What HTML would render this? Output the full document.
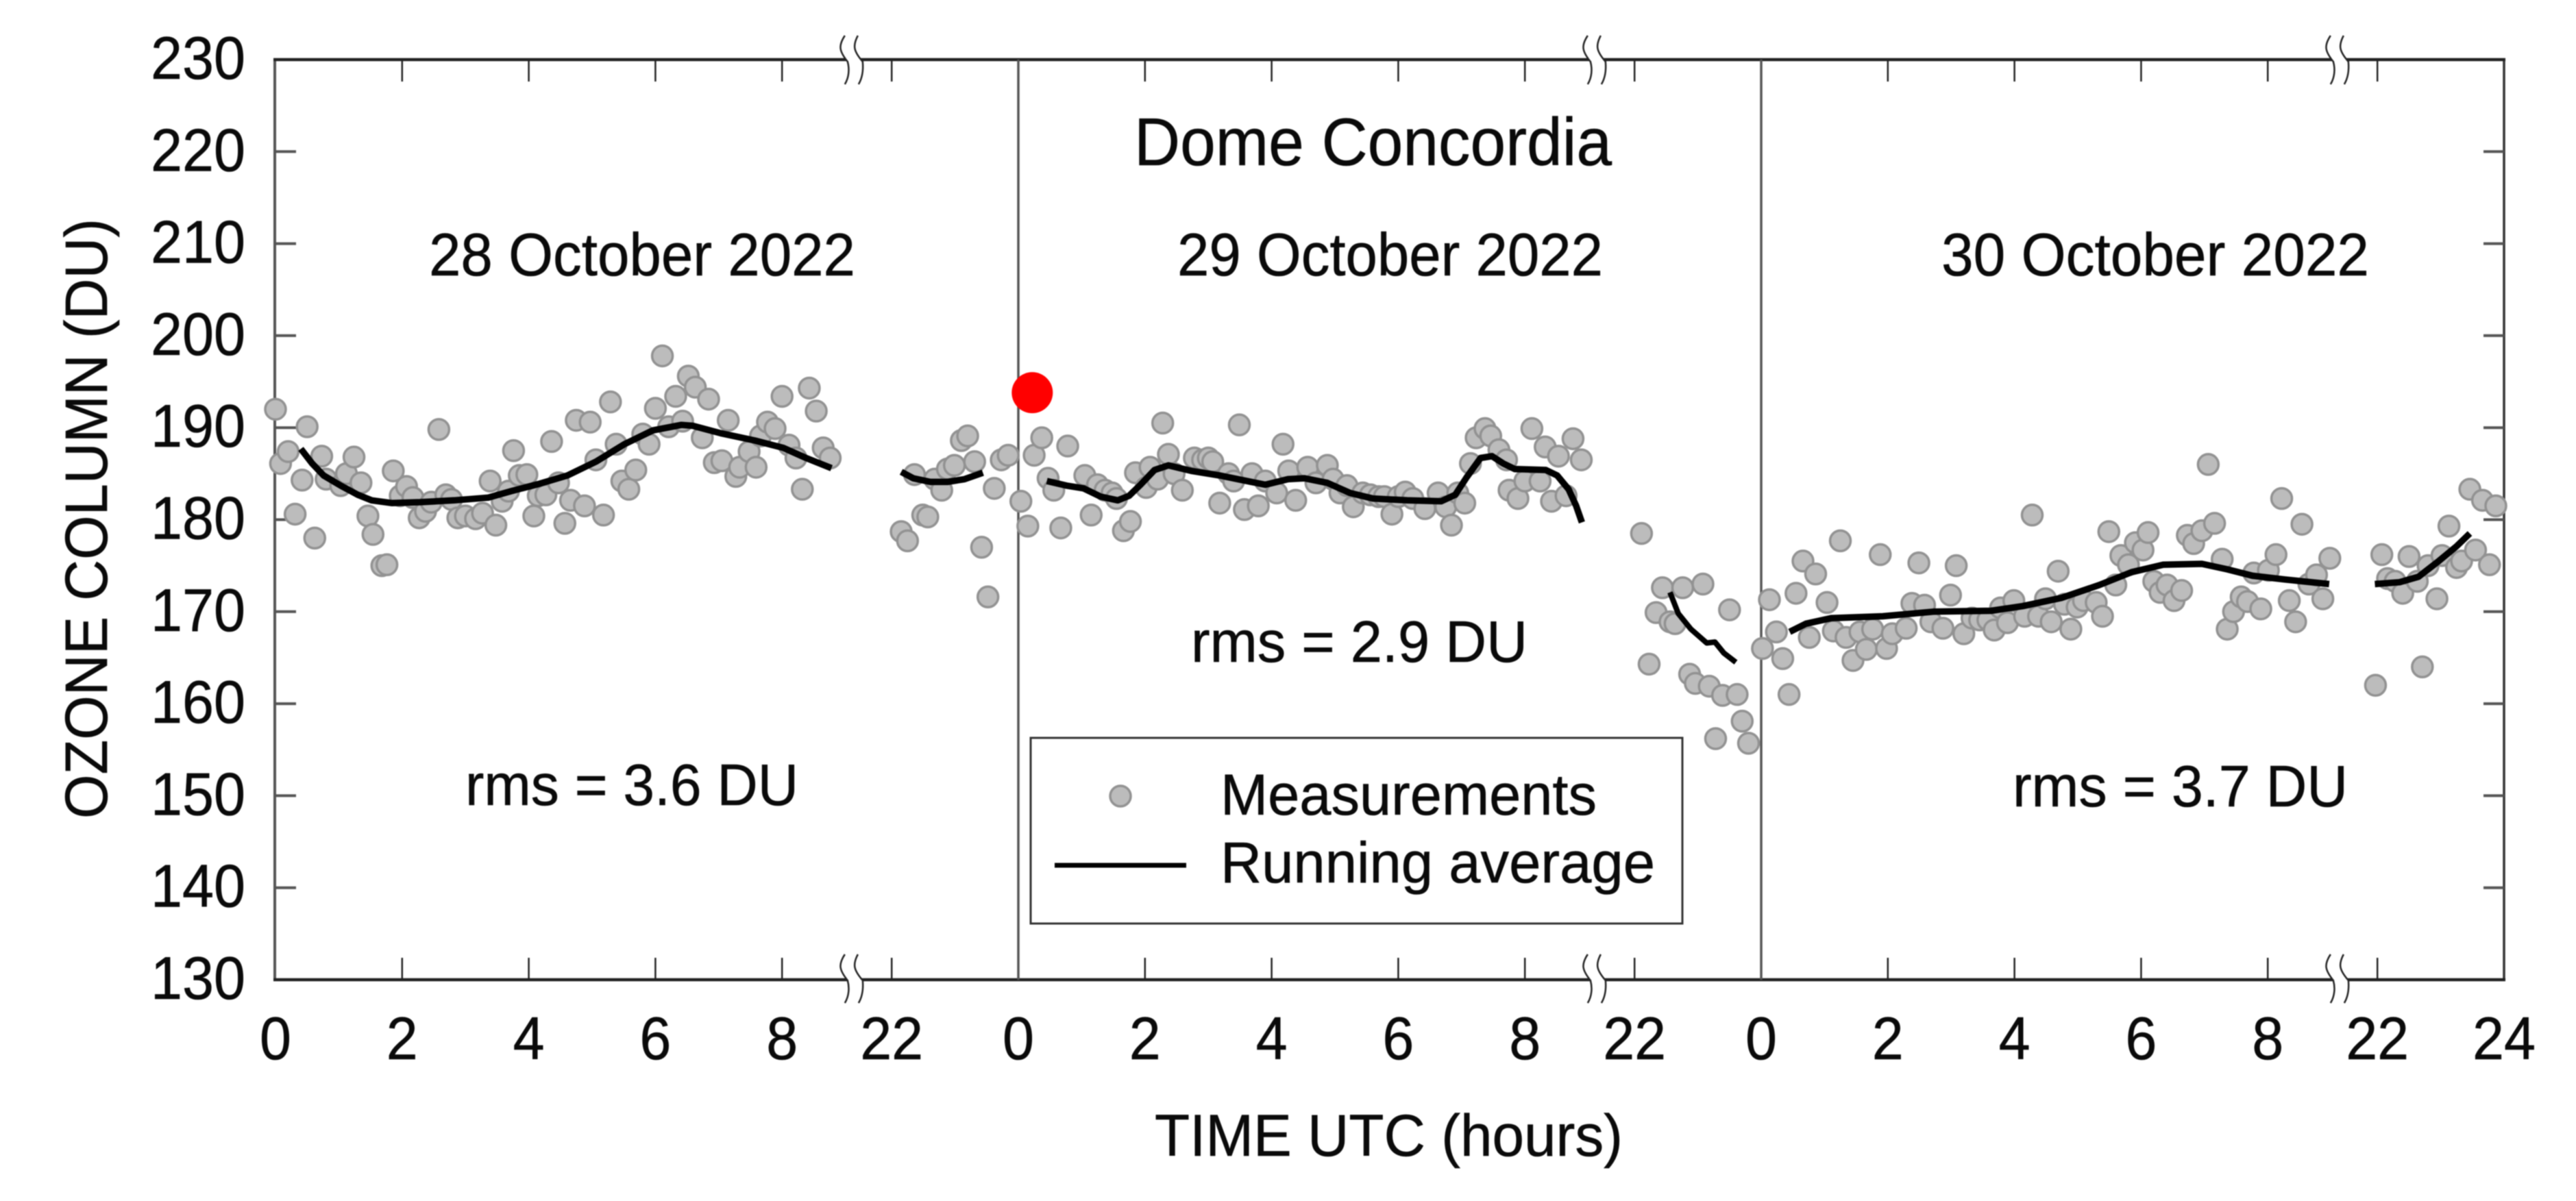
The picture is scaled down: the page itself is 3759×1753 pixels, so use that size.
<!DOCTYPE html>
<html lang="en">
<head>
<meta charset="utf-8">
<title>Dome Concordia ozone column</title>
<style>
html,body{margin:0;padding:0;background:#fff;width:3759px;height:1753px;overflow:hidden}
svg{display:block;filter:blur(0.7px)}
text{font-family:"Liberation Sans",Arial,sans-serif;fill:#0a0a0a;stroke:#0a0a0a;stroke-width:0.6px}
</style>
</head>
<body>
<svg id="chart" xmlns="http://www.w3.org/2000/svg" width="3759" height="1753" viewBox="0 0 3759 1753">
  <rect x="0" y="0" width="3759" height="1753" fill="#fff"/>
  <g id="axes"></g>
  <g id="points"></g>
  <g id="lines"></g>
  <g id="highlight"></g>

  <text x="1655" y="241" font-size="98" textLength="697" lengthAdjust="spacingAndGlyphs">Dome Concordia</text>
  <text x="626" y="402" font-size="88" textLength="622" lengthAdjust="spacingAndGlyphs">28 October 2022</text>
  <text x="1718" y="402" font-size="88" textLength="621" lengthAdjust="spacingAndGlyphs">29 October 2022</text>
  <text x="2833" y="402" font-size="88" textLength="624" lengthAdjust="spacingAndGlyphs">30 October 2022</text>
  <text x="679" y="1175" font-size="85" textLength="486" lengthAdjust="spacingAndGlyphs">rms = 3.6 DU</text>
  <text x="1738" y="966" font-size="85" textLength="491" lengthAdjust="spacingAndGlyphs">rms = 2.9 DU</text>
  <text x="2937" y="1177" font-size="85" textLength="489" lengthAdjust="spacingAndGlyphs">rms = 3.7 DU</text>

  <text x="1685" y="1687" font-size="86" textLength="683" lengthAdjust="spacingAndGlyphs">TIME UTC (hours)</text>
  <text transform="translate(156,1195) rotate(-90)" x="0" y="0" font-size="87" textLength="876" lengthAdjust="spacingAndGlyphs">OZONE COLUMN (DU)</text>

  <g>
    <rect x="1504" y="1077" width="951" height="271" fill="#fff" stroke="#333" stroke-width="3"/>
    <circle cx="1635" cy="1162" r="15" fill="#bcbcbc" stroke="#929292" stroke-width="3.5"/>
    <text x="1781" y="1189" font-size="84" textLength="549" lengthAdjust="spacingAndGlyphs">Measurements</text>
    <line x1="1539" y1="1263" x2="1731" y2="1263" stroke="#000" stroke-width="7"/>
    <text x="1781" y="1288" font-size="84" textLength="634" lengthAdjust="spacingAndGlyphs">Running average</text>
  </g>
</svg>

<script>
// ---- axis values ----
const yTickValues = [130,140,150,160,170,180,190,200,210,220,230];
const xTickHours = [0,2,4,6,8,22];
const xEndTickHour = 24;

// ---- measurements: 28 October (morning and late evening) ----
const meas28Hours = [0,.08,.2,.31,.42,.5,.62,.73,.8,1.03,1.12,1.24,1.35,1.46,1.54,1.68,1.76,1.86,1.97,2.07,2.17,2.27,2.37,2.46,2.58,2.69,2.78,2.88,3,3.16,3.27,3.39,3.48,3.58,3.68,3.76,3.85,3.97,4.08,4.15,4.27,4.36,4.47,4.57,4.66,4.75,4.88,4.97,5.06,5.18,5.29,5.38,5.47,5.58,5.69,5.8,5.9,6,6.11,6.21,6.32,6.43,6.52,6.63,6.74,6.84,6.93,7.05,7.15,7.27,7.33,7.48,7.59,7.66,7.77,7.89,8,8.11,8.22,8.32,8.43,8.54,8.65,8.76,22.15,22.25,22.36,22.49,22.57,22.68,22.79,22.88,22.99,23.1,23.2,23.31,23.42,23.52,23.62,23.73,23.84];
const meas28Ozone = [192,186.1,187.4,180.6,184.3,190.1,178,186.9,184.4,183.7,185,186.8,184,180.4,178.4,175,175.1,185.3,182.6,183.6,182.4,180.2,180.9,181.9,189.8,182.7,182.2,180.2,180.4,180.1,180.7,184.2,179.4,182,183.1,187.5,184.8,184.9,180.4,182.6,182.7,188.5,184,179.6,182.1,190.8,181.5,190.6,186.5,180.5,192.8,188.2,184.2,183.3,185.4,189.3,188.2,192.1,197.8,190.1,193.4,190.7,195.6,194.4,188.9,193.1,186.2,186.4,190.8,184.7,185.7,187.4,185.7,189.1,190.6,189.9,193.4,188.1,186.7,183.3,194.3,191.8,187.8,186.7,178.7,177.7,184.9,180.5,180.3,184.4,183.2,185.5,185.9,188.6,189.1,186.3,177,171.6,183.4,186.5,187];

// ---- measurements: 29 October ----
const meas29Hours = [.04,.15,.25,.37,.47,.56,.67,.78,1.05,1.15,1.25,1.37,1.48,1.55,1.66,1.77,1.85,2.02,2.08,2.2,2.28,2.37,2.46,2.59,2.78,2.91,3,3.07,3.18,3.32,3.4,3.49,3.57,3.69,3.79,3.9,4.08,4.18,4.27,4.38,4.57,4.7,4.88,4.97,5.08,5.19,5.29,5.44,5.56,5.69,5.78,5.9,6,6.11,6.23,6.42,6.63,6.75,6.84,6.94,7.05,7.14,7.23,7.37,7.46,7.59,7.71,7.75,7.89,8,8.11,8.24,8.32,8.42,8.53,8.65,8.76,8.89,22.11,22.23,22.34,22.44,22.56,22.64,22.76,22.87,22.96,23.08,23.18,23.28,23.39,23.5,23.62,23.7,23.8];
const meas29Ozone = [182,179.3,187,188.9,184.5,183.2,179.1,188,184.8,180.5,183.8,183.2,182.9,182.3,178.8,179.8,185.1,183.5,185.7,184.4,190.5,187.1,185,183.2,186.7,186.5,186.7,186.3,181.8,185,184.2,190.3,181.1,185,181.5,184.2,182.9,188.2,185.3,182.1,185.7,184,185.9,184.4,182.9,183.7,181.4,182.9,182.7,182.5,182.5,180.6,182.5,183,182.3,181.2,182.9,181.4,179.4,182.9,181.8,186.1,188.9,189.9,189.1,187.6,186.5,183.2,182.3,184.2,189.9,184.2,187.9,182,186.9,182.6,188.8,186.5,178.5,164.3,169.9,172.6,168.9,168.7,172.6,163.2,162.2,173,161.9,156.2,160.9,170.2,161,158.1,155.7];

// ---- measurements: 30 October ----
const meas30Hours = [.02,.13,.24,.34,.44,.55,.66,.76,.86,1.04,1.14,1.25,1.34,1.45,1.56,1.66,1.76,1.88,1.98,2.07,2.29,2.38,2.49,2.58,2.68,2.87,2.99,3.08,3.2,3.33,3.45,3.58,3.68,3.78,3.89,3.99,4.16,4.28,4.38,4.49,4.58,4.69,4.79,4.89,4.99,5.09,5.29,5.39,5.49,5.6,5.68,5.8,5.91,6.03,6.11,6.2,6.3,6.41,6.52,6.64,6.73,6.83,6.96,7.06,7.16,7.28,7.36,7.46,7.58,7.68,7.78,7.89,8.01,8.13,8.22,8.34,8.44,8.54,8.65,8.77,8.87,8.98,21.97,22.07,22.16,22.28,22.4,22.5,22.63,22.71,22.8,22.94,23.02,23.13,23.25,23.33,23.46,23.55,23.66,23.77,23.87];
const meas30Ozone = [166,171.3,167.8,164.9,161,172,175.5,167.2,174.1,171,167.9,177.7,167.2,164.7,167.8,165.9,168.1,176.2,166,167.6,168.2,170.9,175.3,170.7,168.9,168.2,171.8,175,167.6,169.3,169.1,169.1,168,170.4,168.8,171.2,169.5,180.5,169.5,171.4,168.9,174.4,170.8,168.1,170.5,171.2,171,169.5,178.7,172.9,176.1,175.1,177.5,176.7,178.6,173.3,172.1,172.9,171.2,172.3,178.3,177.4,178.8,186,179.6,175.7,168.1,170,171.6,171.1,174.2,170.3,174.5,176.2,182.3,171.2,168.9,179.5,173,174,171.4,175.8,162,176.2,173.6,173.3,172,176,173.3,164,175,171.4,176.1,179.3,174.8,175.5,183.3,176.7,182.1,175.1,181.5];

// ---- running averages ----
const avg28AmHours = [.4,.58,.76,1.03,1.3,1.52,1.84,2.28,2.82,3.36,3.72,4.17,4.61,5.06,5.51,5.96,6.41,6.59,7.03,7.57,8.02,8.38,8.78];
const avg28AmOzone = [187.7,186.1,184.8,183.7,182.7,182.1,181.8,181.9,182.1,182.4,183.1,183.9,184.8,186.3,188.2,189.7,190.3,190.2,189.4,188.6,187.8,186.7,185.6];
const avg28PmHours = [22.15,22.34,22.61,22.88,23.15,23.44];
const avg28PmOzone = [185.2,184.5,184.1,184.1,184.4,185.1];
const avg29AmHours = [.45,.76,1.03,1.3,1.57,1.75,1.93,2.15,2.37,2.73,3.18,3.54,3.9,4.26,4.52,4.88,5.24,5.6,6.14,6.68,6.9,7.08,7.3,7.48,7.66,7.84,8.33,8.51,8.69,8.81,8.9];
const avg29AmOzone = [184.2,183.7,183.4,182.5,182.1,182.6,183.8,185.4,185.9,185.3,184.8,184.3,183.8,184.4,184.5,184,182.9,182.3,182.1,182,182.7,184.6,186.7,186.9,186.1,185.5,185.4,184.8,183.3,181.5,179.7];
const avg29PmHours = [22.56,22.69,22.89,23.14,23.27,23.41,23.6];
const avg29PmOzone = [172.1,169.8,168.1,166.6,166.7,165.5,164.5];
const avg30AmHours = [.45,.71,1.11,1.92,2.72,3.63,4.13,4.74,5.34,5.85,6.35,6.96,7.36,7.76,8.27,8.97];
const avg30AmOzone = [167.8,168.7,169.3,169.5,170,170.1,170.6,171.5,172.9,174.3,175.1,175.2,174.6,173.9,173.5,173];
const avg30PmHours = [21.96,22.35,22.65,22.95,23.25,23.46];
const avg30PmOzone = [173,173.2,173.8,175.4,177.1,178.5];

// ---- highlighted observation ----
const highlightDay = 1;
const highlightHour = [0.22];
const highlightOzone = [193.8];

// ---- scales ----
const NS = 'http://www.w3.org/2000/svg';
const plotLeft = 402, plotRight = 3654, plotTop = 87, plotBottom = 1430;
const yMin = 130, yMax = 230, pxPerHour = 92.4, dayCount = 3;
const tickFontSize = 88, digitAdvance = 46;
function dayStart(day){ return plotLeft + (plotRight - plotLeft) * day / dayCount; }
function xScale(day, hour){
  return hour < 15 ? dayStart(day) + hour * pxPerHour : dayStart(day + 1) - (24 - hour) * pxPerHour;
}
function yScale(v){ return plotBottom - (v - yMin) * (plotBottom - plotTop) / (yMax - yMin); }
function make(tag, attrs, parent){
  const el = document.createElementNS(NS, tag);
  for (const k in attrs) el.setAttribute(k, attrs[k]);
  parent.appendChild(el);
  return el;
}

const axes = document.getElementById('axes');

// frame
const frameLeft = make('line', {x1:plotLeft-1,y1:plotTop,x2:plotLeft-1,y2:plotBottom,stroke:'#555','stroke-width':4}, axes);


const frameRight = make('line', {x1:plotRight,y1:plotTop,x2:plotRight,y2:plotBottom,stroke:'#333','stroke-width':3.5}, axes);


const frameTop = make('line', {x1:plotLeft-3,y1:plotTop,x2:plotRight+2,y2:plotTop,stroke:'#222','stroke-width':4.5}, axes);


const frameBottom = make('line', {x1:plotLeft-3,y1:plotBottom,x2:plotRight+2,y2:plotBottom,stroke:'#222','stroke-width':4.5}, axes);



// day dividers
for (let d = 1; d < dayCount; d++) {
  const divider = make('line', {x1:dayStart(d),y1:plotTop,x2:dayStart(d),y2:plotBottom,stroke:'#555','stroke-width':3.5}, axes);
  
  
}

// y ticks and labels
yTickValues.forEach(function(v){
  const y = yScale(v);
  if (v !== yMin && v !== yMax) {
    const tl = make('line', {x1:plotLeft,y1:y,x2:plotLeft+30,y2:y,stroke:'#555','stroke-width':4}, axes);
    
    
    const tr = make('line', {x1:plotRight-30,y1:y,x2:plotRight,y2:y,stroke:'#555','stroke-width':4}, axes);
    
    
  }
  const labelText = String(v);
  const labelWidth = digitAdvance * labelText.length;
  const lab = make('text', {x:358-labelWidth,y:y+28,'font-size':tickFontSize,textLength:labelWidth,lengthAdjust:'spacingAndGlyphs'}, axes);
  lab.textContent = labelText;
  
  
});

// x ticks and labels
function xTick(day, hour, label){
  const x = xScale(day, hour);
  if (hour !== 0 && hour !== 24) {
    const t1 = make('line', {x1:x,y1:plotTop,x2:x,y2:plotTop+32,stroke:'#222','stroke-width':2.5}, axes);
    
    
    const t2 = make('line', {x1:x,y1:plotBottom-32,x2:x,y2:plotBottom,stroke:'#222','stroke-width':2.5}, axes);
    
    
  }
  const labelText = String(label);
  const labelWidth = digitAdvance * labelText.length;
  const lab = make('text', {x:x-labelWidth/2,y:1546,'font-size':tickFontSize,textLength:labelWidth,lengthAdjust:'spacingAndGlyphs'}, axes);
  lab.textContent = labelText;
  
  
}
for (let d = 0; d < dayCount; d++) {
  xTickHours.forEach(function(h){ xTick(d, h, h); });
}
xTick(dayCount - 1, xEndTickHour, xEndTickHour);

// axis break marks (top and bottom of each day)
function breakMark(cx, cy){
  const g = make('g', {transform:'translate('+cx+','+cy+')'}, axes);
  
  
  make('path', {d:'M-9,-35 C-19,-20 -17,-12 -5,3 C-2,14 -3,26 -9,36 L11,36 C17,26 18,14 17,3 C4,-12 2,-20 10,-35 Z',fill:'#fff',stroke:'none'}, g);
  make('path', {d:'M-9,-35 C-19,-20 -17,-12 -5,3 C-2,14 -3,26 -9,36',fill:'none',stroke:'#222','stroke-width':2.5}, g);
  make('path', {d:'M10,-35 C2,-20 4,-12 17,3 C18,14 17,26 11,36',fill:'none',stroke:'#222','stroke-width':2.5}, g);
}
for (let d = 0; d < dayCount; d++) {
  const bx = xScale(d, 9.1) - 1;
  breakMark(bx, plotTop);
  breakMark(bx, plotBottom - 2);
}

// measurements
const pointsLayer = document.getElementById('points');
function drawPoints(day, hours, values){
  hours.forEach(function(h, i){
    const c = make('circle', {cx:xScale(day,h),cy:yScale(values[i]),r:15,fill:'#bcbcbc',stroke:'#929292','stroke-width':3.5}, pointsLayer);
    
    
  });
}
drawPoints(0, meas28Hours, meas28Ozone);
drawPoints(1, meas29Hours, meas29Ozone);
drawPoints(2, meas30Hours, meas30Ozone);

// running averages
const linesLayer = document.getElementById('lines');
function drawAverage(day, hours, values, width){
  const pts = hours.map(function(h, i){ return xScale(day,h).toFixed(1)+','+yScale(values[i]).toFixed(1); }).join(' ');
  const p = make('polyline', {points:pts,fill:'none',stroke:'#000','stroke-width':width,'stroke-linejoin':'round','stroke-linecap':'butt'}, linesLayer);
  
  
}
drawAverage(0, avg28AmHours, avg28AmOzone, 9.5);
drawAverage(0, avg28PmHours, avg28PmOzone, 9.5);
drawAverage(1, avg29AmHours, avg29AmOzone, 9.5);
drawAverage(1, avg29PmHours, avg29PmOzone, 8);
drawAverage(2, avg30AmHours, avg30AmOzone, 9.5);
drawAverage(2, avg30PmHours, avg30PmOzone, 9.5);

// highlighted observation
const highlightLayer = document.getElementById('highlight');
highlightHour.forEach(function(h, i){
  const dot = make('circle', {cx:xScale(highlightDay,h),cy:yScale(highlightOzone[i]),r:30,fill:'#ff0000'}, highlightLayer);
  
  
});
</script>
</body>
</html>
